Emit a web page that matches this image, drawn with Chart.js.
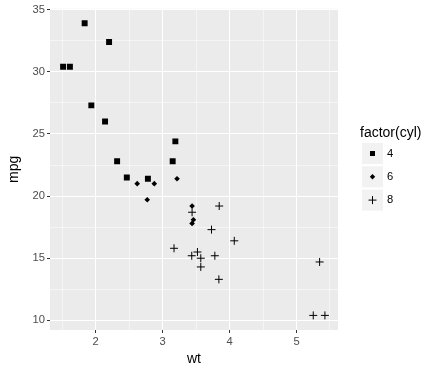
<!DOCTYPE html>
<html>
<head>
<meta charset="utf-8">
<script src="https://cdn.jsdelivr.net/npm/chart.js@4/dist/chart.umd.min.js"></script>
<style>
html, body { margin: 0; padding: 0; background: #fff; }
#contenedor { width: 439px; height: 371px; }
</style>
</head>
<body>
<div id="contenedor"><canvas id="grafico"></canvas></div>
<script>
// datos (mtcars): peso y consumo por cilindros
const wt4 = [2.32, 3.19, 3.15, 2.2, 1.615, 1.835, 2.465, 1.935, 2.14, 1.513, 2.78];
const mpg4 = [22.8, 24.4, 22.8, 32.4, 30.4, 33.9, 21.5, 27.3, 26.0, 30.4, 21.4];
const wt6 = [2.62, 2.875, 3.215, 3.46, 3.44, 3.44, 2.77];
const mpg6 = [21.0, 21.0, 21.4, 18.1, 19.2, 17.8, 19.7];
const wt8 = [3.44, 3.57, 4.07, 3.73, 3.78, 5.25, 5.424, 5.345, 3.52, 3.435, 3.84, 3.845, 3.17, 3.57];
const mpg8 = [18.7, 14.3, 16.4, 17.3, 15.2, 10.4, 10.4, 14.7, 15.5, 15.2, 13.3, 19.2, 15.8, 15.0];

const cilindros = ['4', '6', '8'];
const ticksX = [1.5, 2, 2.5, 3, 3.5, 4, 4.5, 5, 5.5];
const ticksY = [10, 12.5, 15, 17.5, 20, 22.5, 25, 27.5, 30, 32.5, 35];

function puntos(xs, ys) {
    return xs.map((x, i) => ({ x: x, y: ys[i] }));
}

const fuente = '"Liberation Sans", Arial, sans-serif';

// fondo gris del panel
const fondoPanel = {
    id: 'fondoPanel',
    beforeDraw(chart) {
        const a = chart.chartArea;
        const ctx = chart.ctx;
        ctx.save();
        ctx.fillStyle = '#EBEBEB';
        ctx.fillRect(a.left, a.top, a.right - a.left, a.bottom - a.top);
        ctx.restore();
    }
};

// leyenda al estilo ggplot
const leyenda = {
    id: 'leyenda',
    afterDraw(chart) {
        const ctx = chart.ctx;
        ctx.save();
        ctx.fillStyle = '#000';
        ctx.font = '14px ' + fuente;
        ctx.textBaseline = 'middle';
        ctx.textAlign = 'left';
        ctx.fillText('factor(cyl)', 360, 133);
        for (let i = 0; i < cilindros.length; i++) {
            const y0 = 143 + i * 23.3;
            ctx.fillStyle = '#F2F2F2';
            ctx.fillRect(362, y0, 21, 21);
            const cx = 372.5, cy = y0 + 10.5;
            ctx.fillStyle = '#000';
            ctx.strokeStyle = '#000';
            if (i === 0) {
                ctx.fillRect(cx - 2.5, cy - 2.5, 5, 5);
            } else if (i === 1) {
                ctx.beginPath();
                ctx.moveTo(cx, cy - 2.7);
                ctx.lineTo(cx + 2.7, cy);
                ctx.lineTo(cx, cy + 2.7);
                ctx.lineTo(cx - 2.7, cy);
                ctx.closePath();
                ctx.fill();
            } else {
                ctx.lineWidth = 1;
                ctx.beginPath();
                ctx.moveTo(cx - 4, cy);
                ctx.lineTo(cx + 4, cy);
                ctx.moveTo(cx, cy - 4);
                ctx.lineTo(cx, cy + 4);
                ctx.stroke();
            }
            ctx.font = '11.2px ' + fuente;
            ctx.fillText(cilindros[i], 387, cy);
        }
        ctx.restore();
    }
};

const esMayor = (v, paso) => Math.abs(v / paso - Math.round(v / paso)) < 1e-6;

new Chart(document.getElementById('grafico'), {
    type: 'scatter',
    data: {
        datasets: [
            {
                label: cilindros[0],
                data: puntos(wt4, mpg4),
                pointStyle: 'rect',
                pointRadius: 4.2,
                backgroundColor: '#000',
                borderWidth: 0
            },
            {
                label: cilindros[1],
                data: puntos(wt6, mpg6),
                pointStyle: 'rectRot',
                pointRadius: 2.8,
                backgroundColor: '#000',
                borderWidth: 0
            },
            {
                label: cilindros[2],
                data: puntos(wt8, mpg8),
                pointStyle: 'cross',
                pointRadius: 4,
                borderColor: '#000',
                borderWidth: 1
            }
        ]
    },
    options: {
        responsive: true,
        maintainAspectRatio: false,
        animation: false,
        layout: { padding: { left: 0, top: 7, right: 101, bottom: 0 } },
        plugins: {
            legend: { display: false },
            tooltip: { enabled: false }
        },
        scales: {
            x: {
                type: 'linear',
                min: 1.3175,
                max: 5.6195,
                afterBuildTicks: (s) => { s.ticks = ticksX.map(v => ({ value: v })); },
                afterFit: (s) => { s.height = 41; },
                border: { display: false },
                grid: {
                    color: '#FFFFFF',
                    lineWidth: (c) => esMayor(c.tick.value, 1) ? 1 : 0.5,
                    tickLength: 3,
                    tickWidth: 1,
                    tickColor: (c) => esMayor(c.tick.value, 1) ? '#333333' : 'rgba(0,0,0,0)'
                },
                ticks: {
                    autoSkip: false,
                    maxRotation: 0,
                    padding: 2,
                    color: '#4D4D4D',
                    font: { family: fuente, size: 11.2 },
                    callback: (v) => esMayor(v, 1) ? String(v) : ''
                },
                title: {
                    display: true,
                    text: 'wt',
                    color: '#000',
                    font: { family: fuente, size: 14 },
                    padding: { top: 0, bottom: 3.6 }
                }
            },
            y: {
                type: 'linear',
                min: 9.225,
                max: 35.075,
                afterBuildTicks: (s) => { s.ticks = ticksY.map(v => ({ value: v })); },
                afterFit: (s) => { s.width = 50; },
                border: { display: false },
                grid: {
                    color: '#FFFFFF',
                    lineWidth: (c) => esMayor(c.tick.value, 5) ? 1 : 0.5,
                    tickLength: 3,
                    tickWidth: 1,
                    tickColor: (c) => esMayor(c.tick.value, 5) ? '#333333' : 'rgba(0,0,0,0)'
                },
                ticks: {
                    autoSkip: false,
                    padding: 2,
                    color: '#4D4D4D',
                    font: { family: fuente, size: 11.2 },
                    callback: (v) => esMayor(v, 5) ? String(v) : ''
                },
                title: {
                    display: true,
                    text: 'mpg',
                    color: '#000',
                    font: { family: fuente, size: 14 },
                    padding: { top: 5.6, bottom: 0 }
                }
            }
        }
    },
    plugins: [fondoPanel, leyenda]
});
</script>
</body>
</html>
